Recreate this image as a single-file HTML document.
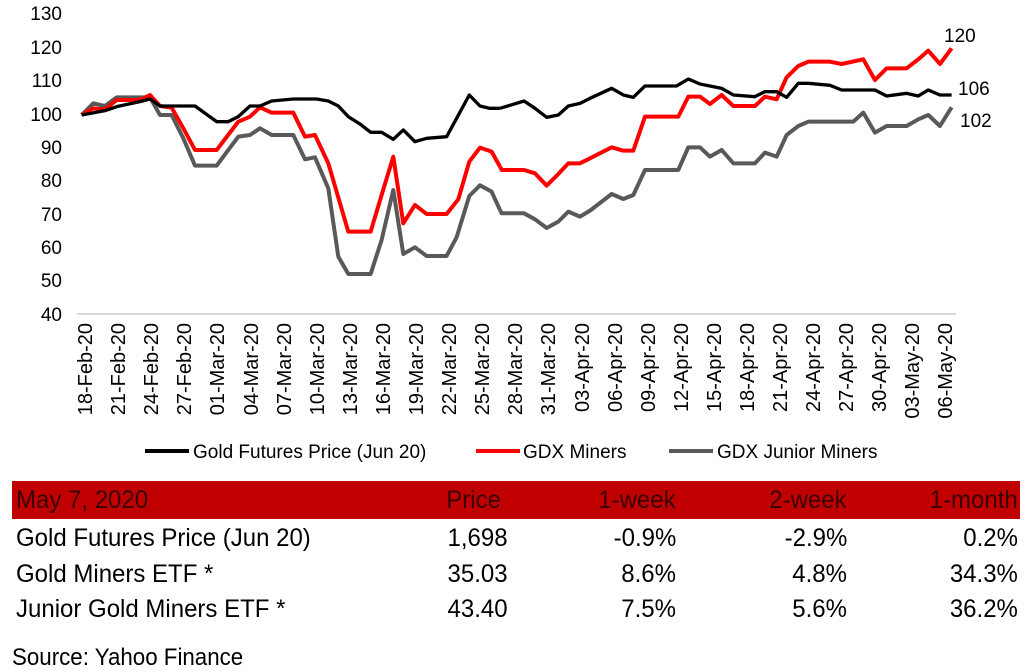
<!DOCTYPE html>
<html><head><meta charset="utf-8"><style>
body{margin:0;background:#fff;width:1027px;height:672px;overflow:hidden;font-family:"Liberation Sans",sans-serif;}
.t{position:absolute;font-size:25px;line-height:28px;color:#000;white-space:nowrap;transform:scaleX(0.96);}
.l{transform-origin:left center}
.r{transform-origin:right center;text-align:right}
.h{color:#3a0000}
</style></head><body>
<svg width="1027" height="480" style="position:absolute;left:0;top:0" font-family="Liberation Sans, sans-serif">
<line x1="77" y1="314" x2="956" y2="314" stroke="#d9d9d9" stroke-width="2"/>
<g font-size="19" text-anchor="end" fill="#000">
<text x="62" y="20">130</text><text x="62" y="54">120</text><text x="62" y="87">110</text><text x="62" y="121">100</text><text x="62" y="154">90</text><text x="62" y="187">80</text><text x="62" y="221">70</text><text x="62" y="254">60</text><text x="62" y="287">50</text><text x="62" y="321">40</text>
</g>
<g fill="none" stroke-linejoin="round">
<g transform="scale(0.3333)">
<polyline stroke="#595959" stroke-width="12" points="245,345 280,310 315,318 350,292 450,292 480,345 515,345 550,415 585,497 650,497 685,450 715,410 750,405 780,385 815,405 880,405 915,478 945,472 985,565 1015,770 1045,822 1112,822 1145,720 1180,570 1210,762 1245,742 1280,768 1340,768 1370,712 1408,588 1440,556 1475,575 1500,630"/>
<polyline stroke="#ff0000" stroke-width="12" points="245,345 280,325 315,328 350,300 420,300 450,285 480,318 515,323 550,385 585,450 650,450 715,365 750,350 780,322 815,338 880,338 915,410 945,405 985,490 1045,695 1112,695 1145,585 1180,470 1210,670 1245,615 1280,642 1340,642 1375,598 1408,485 1440,443 1475,455 1500,500"/>
<polyline stroke="#000" stroke-width="10" points="245,345 315,332 350,320 420,305 450,297 480,318 585,318 650,365 685,365 715,350 750,318 780,318 815,303 880,297 950,297 985,303 1015,318 1045,350 1080,372 1112,397 1145,397 1180,418 1210,390 1245,425 1280,415 1340,410 1370,355 1408,285 1440,318 1470,325 1500,325"/>
</g>
<g transform="translate(500,0) scale(0.3333)">
<polyline stroke="#595959" stroke-width="12" points="0,630 5,640 72,640 105,658 140,684 175,665 205,635 240,650 270,632 335,582 370,597 400,585 435,510 535,510 565,442 600,442 630,470 665,450 700,490 765,490 795,458 830,470 860,405 895,378 925,365 1060,365 1090,338 1125,398 1160,378 1220,378 1255,358 1285,345 1320,378 1355,322"/>
<polyline stroke="#ff0000" stroke-width="12" points="0,500 5,510 72,510 105,520 140,557 175,522 205,490 240,490 270,475 335,442 370,452 400,452 435,350 535,350 565,290 600,290 630,312 665,285 700,318 765,318 795,290 830,298 860,232 895,198 925,185 990,185 1025,192 1090,178 1125,240 1160,205 1220,205 1255,178 1285,152 1320,192 1355,145"/>
<polyline stroke="#000" stroke-width="10" points="0,325 40,313 72,303 105,325 140,352 175,345 205,318 240,310 270,295 335,265 370,285 400,292 435,258 530,258 565,237 600,252 665,265 700,285 765,290 795,275 830,275 860,292 895,250 925,250 990,256 1025,270 1125,270 1160,288 1220,280 1255,288 1285,270 1320,285 1355,285"/>
</g>
</g>
<g font-size="19" fill="#000">
<text x="944" y="42">120</text><text x="958" y="95">106</text><text x="960" y="127">102</text>
</g>
<g font-size="19" fill="#000">
<line x1="145" y1="451" x2="189" y2="451" stroke="#000" stroke-width="4"/>
<text x="193" y="458">Gold Futures Price (Jun 20)</text>
<line x1="476" y1="451" x2="520" y2="451" stroke="#f00" stroke-width="4"/>
<text x="523" y="458">GDX Miners</text>
<line x1="669" y1="451" x2="713" y2="451" stroke="#595959" stroke-width="4"/>
<text x="717" y="458">GDX Junior Miners</text>
</g>
<g text-anchor="end" font-size="20">
<text transform="translate(92,323) rotate(-90)">18-Feb-20</text>
<text transform="translate(125,323) rotate(-90)">21-Feb-20</text>
<text transform="translate(158,323) rotate(-90)">24-Feb-20</text>
<text transform="translate(191,323) rotate(-90)">27-Feb-20</text>
<text transform="translate(224,323) rotate(-90)">01-Mar-20</text>
<text transform="translate(258,323) rotate(-90)">04-Mar-20</text>
<text transform="translate(291,323) rotate(-90)">07-Mar-20</text>
<text transform="translate(324,323) rotate(-90)">10-Mar-20</text>
<text transform="translate(357,323) rotate(-90)">13-Mar-20</text>
<text transform="translate(390,323) rotate(-90)">16-Mar-20</text>
<text transform="translate(423,323) rotate(-90)">19-Mar-20</text>
<text transform="translate(456,323) rotate(-90)">22-Mar-20</text>
<text transform="translate(489,323) rotate(-90)">25-Mar-20</text>
<text transform="translate(522,323) rotate(-90)">28-Mar-20</text>
<text transform="translate(555,323) rotate(-90)">31-Mar-20</text>
<text transform="translate(589,323) rotate(-90)">03-Apr-20</text>
<text transform="translate(622,323) rotate(-90)">06-Apr-20</text>
<text transform="translate(655,323) rotate(-90)">09-Apr-20</text>
<text transform="translate(688,323) rotate(-90)">12-Apr-20</text>
<text transform="translate(721,323) rotate(-90)">15-Apr-20</text>
<text transform="translate(754,323) rotate(-90)">18-Apr-20</text>
<text transform="translate(787,323) rotate(-90)">21-Apr-20</text>
<text transform="translate(820,323) rotate(-90)">24-Apr-20</text>
<text transform="translate(853,323) rotate(-90)">27-Apr-20</text>
<text transform="translate(886,323) rotate(-90)">30-Apr-20</text>
<text transform="translate(919,323) rotate(-90)">03-May-20</text>
<text transform="translate(952,323) rotate(-90)">06-May-20</text>
</g>
</svg>
<div style="position:absolute;left:12px;top:481px;width:1008px;height:38px;background:#c00000"></div>
<div class="t l h" style="left:16px;top:486px">May 7, 2020</div>
<div class="t r h" style="right:526px;top:486px">Price</div>
<div class="t r h" style="right:351px;top:486px">1-week</div>
<div class="t r h" style="right:180px;top:486px">2-week</div>
<div class="t r h" style="right:9px;top:486px">1-month</div>

<div class="t l" style="left:16px;top:524px">Gold Futures Price (Jun 20)</div>
<div class="t r" style="right:519px;top:524px">1,698</div>
<div class="t r" style="right:351px;top:524px">-0.9%</div>
<div class="t r" style="right:180px;top:524px">-2.9%</div>
<div class="t r" style="right:9px;top:524px">0.2%</div>

<div class="t l" style="left:16px;top:560px">Gold Miners ETF *</div>
<div class="t r" style="right:519px;top:560px">35.03</div>
<div class="t r" style="right:351px;top:560px">8.6%</div>
<div class="t r" style="right:180px;top:560px">4.8%</div>
<div class="t r" style="right:9px;top:560px">34.3%</div>

<div class="t l" style="left:16px;top:595px">Junior Gold Miners ETF *</div>
<div class="t r" style="right:519px;top:595px">43.40</div>
<div class="t r" style="right:351px;top:595px">7.5%</div>
<div class="t r" style="right:180px;top:595px">5.6%</div>
<div class="t r" style="right:9px;top:595px">36.2%</div>

<div class="t l" style="left:12px;top:644px;font-size:24px;transform:scaleX(0.93)">Source: Yahoo Finance</div>
</body></html>
